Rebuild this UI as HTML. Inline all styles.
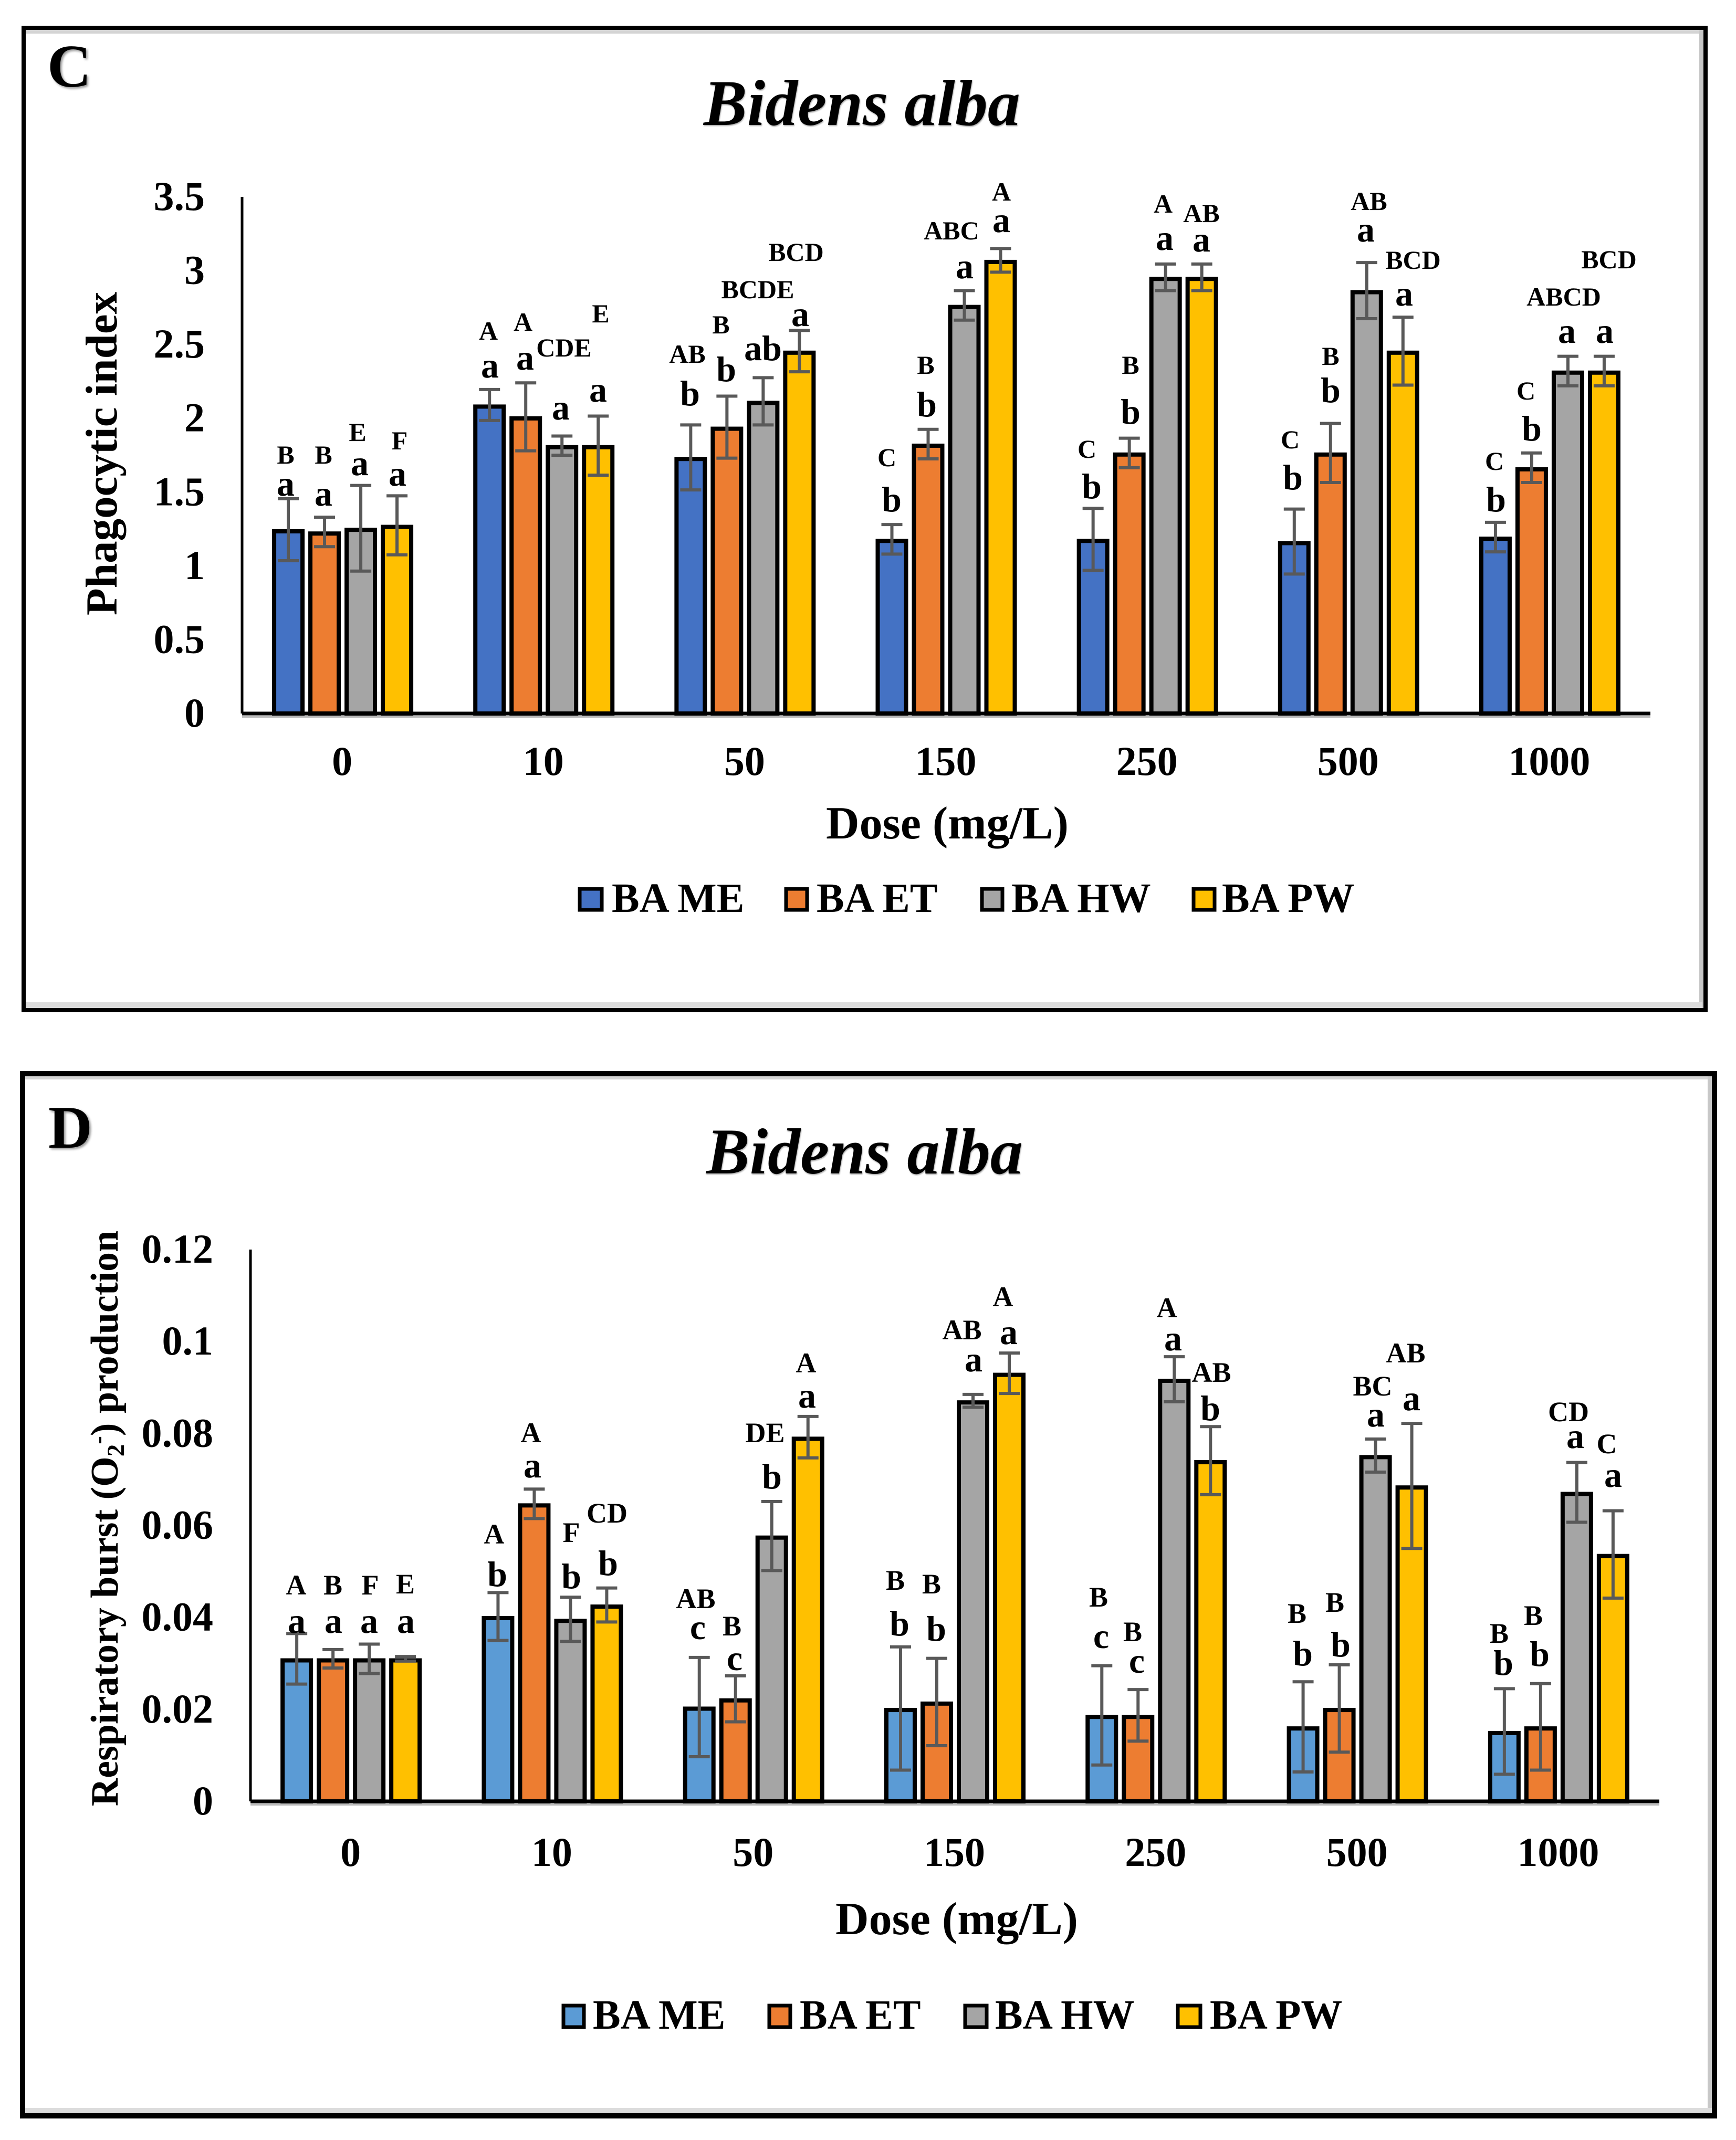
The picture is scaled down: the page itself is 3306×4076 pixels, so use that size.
<!DOCTYPE html>
<html lang="en">
<head>
<meta charset="utf-8">
<title>Bidens alba charts</title>
<style>
html,body{margin:0;padding:0;background:#fff;width:3306px;height:4076px;overflow:hidden}
svg{display:block}
text{font-family:"Liberation Serif",serif;font-weight:bold;fill:#000}
.up{font-size:50px;text-anchor:middle}
.lo{font-size:68px;text-anchor:middle}
.upd{font-size:54px;text-anchor:middle}
.panel{font-size:116px;filter:drop-shadow(3px 3px 2px #999)}
.title{font-size:124px;font-style:italic;filter:drop-shadow(1px 2px 1px #aaa)}
.tick{font-size:78px}
.axt{font-size:88px}
.leg{font-size:79px}
</style>
</head>
<body>
<svg id="figure" xmlns="http://www.w3.org/2000/svg" width="3306" height="4076" viewBox="0 0 3306 4076">
<rect x="0" y="0" width="3306" height="4076" fill="#fff"/>

<!-- Panel C frame -->
<g>
<rect x="50" y="57" width="3192" height="7" fill="#d4d4d4"/>
<rect x="3236" y="57" width="8" height="1864" fill="#c8c8c8"/>
<rect x="50" y="1909" width="3192" height="12" fill="#dcdcdc"/>
<rect x="45" y="53" width="3203" height="1871" fill="none" stroke="#000" stroke-width="8"/>
</g>
<text class="panel" x="90" y="165">C</text>
<text class="title" x="1340" y="238">Bidens alba</text>
<text font-size="85" transform="translate(222,864) rotate(-90)" text-anchor="middle">Phagocytic index</text>
<text class="axt" x="1804" y="1597" text-anchor="middle">Dose (mg/L)</text>
<g id="chartC"></g>

<!-- Panel C legend -->
<g>
<rect x="1104" y="1693" width="42" height="40" fill="#4472C4" stroke="#000" stroke-width="7"/>
<text class="leg" x="1165" y="1737">BA ME</text>
<rect x="1497" y="1693" width="40" height="40" fill="#ED7D31" stroke="#000" stroke-width="7"/>
<text class="leg" x="1555" y="1737">BA ET</text>
<rect x="1870" y="1693" width="39" height="40" fill="#A5A5A5" stroke="#000" stroke-width="7"/>
<text class="leg" x="1926" y="1737">BA HW</text>
<rect x="2273" y="1693" width="40" height="40" fill="#FFC000" stroke="#000" stroke-width="7"/>
<text class="leg" x="2327" y="1737">BA PW</text>
</g>

<!-- Panel C significance letters -->
<g>
<text class="up" x="544" y="883">B</text>
<text class="up" x="616" y="883">B</text>
<text class="up" x="681" y="840">E</text>
<text class="up" x="761" y="856">F</text>
<text class="lo" x="544" y="944">a</text>
<text class="lo" x="616" y="963">a</text>
<text class="lo" x="685" y="905">a</text>
<text class="lo" x="757" y="925">a</text>
<text class="up" x="930" y="647">A</text>
<text class="up" x="996" y="630">A</text>
<text class="up" x="1074" y="679">CDE</text>
<text class="up" x="1144" y="614">E</text>
<text class="lo" x="933" y="719">a</text>
<text class="lo" x="1000" y="704">a</text>
<text class="lo" x="1068" y="799">a</text>
<text class="lo" x="1139" y="765">a</text>
<text class="up" x="1309" y="691">AB</text>
<text class="up" x="1373" y="635">B</text>
<text class="up" x="1443" y="568">BCDE</text>
<text class="up" x="1516" y="497">BCD</text>
<text class="lo" x="1314" y="772">b</text>
<text class="lo" x="1383" y="726">b</text>
<text class="lo" x="1453" y="686">ab</text>
<text class="lo" x="1524" y="621">a</text>
<text class="up" x="1689" y="888">C</text>
<text class="lo" x="1698" y="974">b</text>
<text class="up" x="1763" y="712">B</text>
<text class="lo" x="1765" y="793">b</text>
<text class="up" x="1812" y="456">ABC</text>
<text class="lo" x="1837" y="530">a</text>
<text class="up" x="1907" y="382">A</text>
<text class="lo" x="1907" y="442">a</text>
<text class="up" x="2070" y="872">C</text>
<text class="lo" x="2079" y="949">b</text>
<text class="up" x="2153" y="712">B</text>
<text class="lo" x="2153" y="807">b</text>
<text class="up" x="2215" y="405">A</text>
<text class="lo" x="2218" y="476">a</text>
<text class="up" x="2288" y="423">AB</text>
<text class="lo" x="2288" y="479">a</text>
<text class="up" x="2457" y="854">C</text>
<text class="lo" x="2462" y="932">b</text>
<text class="up" x="2534" y="695">B</text>
<text class="lo" x="2534" y="766">b</text>
<text class="up" x="2607" y="400">AB</text>
<text class="lo" x="2601" y="460">a</text>
<text class="up" x="2691" y="512">BCD</text>
<text class="lo" x="2674" y="582">a</text>
<text class="up" x="2846" y="895">C</text>
<text class="lo" x="2849" y="974">b</text>
<text class="up" x="2906" y="761">C</text>
<text class="lo" x="2917" y="839">b</text>
<text class="up" x="2978" y="582">ABCD</text>
<text class="lo" x="2984" y="653">a</text>
<text class="up" x="3064" y="511">BCD</text>
<text class="lo" x="3056" y="653">a</text>
</g>

<!-- Panel D frame -->
<g>
<rect x="48" y="2048" width="3212" height="8" fill="#d4d4d4"/>
<rect x="3252" y="2048" width="10" height="1980" fill="#c8c8c8"/>
<rect x="48" y="4015" width="3212" height="12" fill="#dcdcdc"/>
<rect x="43" y="2045" width="3222" height="1985" fill="none" stroke="#000" stroke-width="10"/>
</g>
<text class="panel" x="92" y="2186">D</text>
<text class="title" x="1345" y="2235">Bidens alba</text>
<text transform="translate(224,2892) rotate(-90)" text-anchor="middle" font-size="74">Respiratory burst (O<tspan font-size="47" dy="12">2</tspan><tspan font-size="47" dy="-34">-</tspan><tspan dy="22">) production</tspan></text>
<text class="axt" x="1822" y="3684" text-anchor="middle">Dose (mg/L)</text>
<g id="chartD"></g>

<!-- Panel D legend -->
<g>
<rect x="1073" y="3820" width="39" height="41" fill="#5B9BD5" stroke="#000" stroke-width="7"/>
<text class="leg" x="1129" y="3864">BA ME</text>
<rect x="1465" y="3820" width="40" height="41" fill="#ED7D31" stroke="#000" stroke-width="7"/>
<text class="leg" x="1523" y="3864">BA ET</text>
<rect x="1838" y="3820" width="41" height="41" fill="#A5A5A5" stroke="#000" stroke-width="7"/>
<text class="leg" x="1895" y="3864">BA HW</text>
<rect x="2243" y="3820" width="43" height="41" fill="#FFC000" stroke="#000" stroke-width="7"/>
<text class="leg" x="2304" y="3864">BA PW</text>
</g>

<!-- Panel D significance letters -->
<g>
<text class="upd" x="564" y="3037">A</text>
<text class="upd" x="634" y="3037">B</text>
<text class="upd" x="705" y="3037">F</text>
<text class="upd" x="772" y="3035">E</text>
<text class="lo" x="565" y="3110">a</text>
<text class="lo" x="635" y="3110">a</text>
<text class="lo" x="703" y="3110">a</text>
<text class="lo" x="773" y="3110">a</text>
<text class="upd" x="941" y="2940">A</text>
<text class="lo" x="947" y="3021">b</text>
<text class="upd" x="1011" y="2747">A</text>
<text class="lo" x="1014" y="2814">a</text>
<text class="upd" x="1088" y="2937">F</text>
<text class="lo" x="1088" y="3025">b</text>
<text class="upd" x="1156" y="2900">CD</text>
<text class="lo" x="1158" y="3000">b</text>
<text class="upd" x="1325" y="3063">AB</text>
<text class="lo" x="1329" y="3122">c</text>
<text class="upd" x="1394" y="3115">B</text>
<text class="lo" x="1399" y="3181">c</text>
<text class="upd" x="1457" y="2747">DE</text>
<text class="lo" x="1470" y="2835">b</text>
<text class="upd" x="1535" y="2614">A</text>
<text class="lo" x="1537" y="2681">a</text>
<text class="upd" x="1705" y="3028">B</text>
<text class="lo" x="1713" y="3115">b</text>
<text class="upd" x="1774" y="3035">B</text>
<text class="lo" x="1783" y="3125">b</text>
<text class="upd" x="1832" y="2551">AB</text>
<text class="lo" x="1854" y="2612">a</text>
<text class="upd" x="1910" y="2488">A</text>
<text class="lo" x="1921" y="2560">a</text>
<text class="upd" x="2092" y="3060">B</text>
<text class="lo" x="2097" y="3139">c</text>
<text class="upd" x="2157" y="3126">B</text>
<text class="lo" x="2165" y="3186">c</text>
<text class="upd" x="2222" y="2509">A</text>
<text class="lo" x="2234" y="2572">a</text>
<text class="upd" x="2307" y="2632">AB</text>
<text class="lo" x="2305" y="2705">b</text>
<text class="upd" x="2470" y="3091">B</text>
<text class="lo" x="2481" y="3172">b</text>
<text class="upd" x="2542" y="3070">B</text>
<text class="lo" x="2553" y="3155">b</text>
<text class="upd" x="2614" y="2658">BC</text>
<text class="lo" x="2620" y="2717">a</text>
<text class="upd" x="2677" y="2595">AB</text>
<text class="lo" x="2688" y="2686">a</text>
<text class="upd" x="2855" y="3129">B</text>
<text class="lo" x="2863" y="3190">b</text>
<text class="upd" x="2920" y="3095">B</text>
<text class="lo" x="2932" y="3173">b</text>
<text class="upd" x="2987" y="2707">CD</text>
<text class="lo" x="3000" y="2758">a</text>
<text class="upd" x="3060" y="2768">C</text>
<text class="lo" x="3072" y="2832">a</text>
</g>
</svg>

<script>
var doses = ['0', '10', '50', '150', '250', '500', '1000'];
var seriesKeys = ['me', 'et', 'hw', 'pw'];

var cTicks = [0, 0.5, 1, 1.5, 2, 2.5, 3, 3.5];
var cMe = [1.245, 2.09, 1.735, 1.18, 1.18, 1.165, 1.195];
var cEt = [1.23, 2.01, 1.94, 1.825, 1.765, 1.765, 1.665];
var cHw = [1.255, 1.815, 2.115, 2.765, 2.955, 2.865, 2.32];
var cPw = [1.275, 1.815, 2.455, 3.07, 2.955, 2.455, 2.32];
var cMeErr = [0.21, 0.105, 0.22, 0.1, 0.21, 0.22, 0.1];
var cEtErr = [0.1, 0.23, 0.21, 0.1, 0.1, 0.2, 0.1];
var cHwErr = [0.29, 0.065, 0.16, 0.1, 0.09, 0.19, 0.1];
var cPwErr = [0.2, 0.2, 0.14, 0.08, 0.09, 0.23, 0.1];

var dTicks = [0, 0.02, 0.04, 0.06, 0.08, 0.1, 0.12];
var dMe = [0.031, 0.0402, 0.0205, 0.0202, 0.0187, 0.0162, 0.0152];
var dEt = [0.031, 0.0647, 0.0223, 0.0216, 0.0187, 0.0202, 0.0162];
var dHw = [0.031, 0.0396, 0.0577, 0.0871, 0.0918, 0.0752, 0.0672];
var dPw = [0.031, 0.0427, 0.0792, 0.0931, 0.0741, 0.0686, 0.0537];
var dMeErr = [0.0055, 0.0052, 0.0108, 0.0134, 0.0108, 0.0098, 0.0093];
var dEtErr = [0.002, 0.0032, 0.005, 0.0095, 0.0056, 0.0095, 0.0094];
var dHwErr = [0.0032, 0.0048, 0.0075, 0.0014, 0.0049, 0.0036, 0.0065];
var dPwErr = [0.0005, 0.0037, 0.0045, 0.0044, 0.0074, 0.0136, 0.0095];

var NS = 'http://www.w3.org/2000/svg';

function make(tag, parent, attrs) {
  var el = document.createElementNS(NS, tag);
  for (var k in attrs) { el.setAttribute(k, attrs[k]); }
  parent.appendChild(el);
  return el;
}

function drawChart(rootId, opts, series, errors, colors, ticks) {
  var root = document.getElementById(rootId);
  var band = (opts.xEnd - opts.xStart) / doses.length;
  function xCenter(i) { return opts.xStart + band * (i + 0.5); }
  function y(v) { return opts.y0 - (v / opts.yMax) * (opts.y0 - opts.yTop); }
  var offsets = [-103.5, -34.5, 34.5, 103.5];

  for (var s = 0; s < series.length; s++) {
    for (var i = 0; i < doses.length; i++) {
      var bx = xCenter(i) + offsets[s];
      var bar = make('rect', root, {
        x: bx - 27, y: y(series[s][i]) + 3, width: 54,
        height: Math.max(0, opts.y0 - y(series[s][i]) - 3),
        fill: colors[s], stroke: '#000', 'stroke-width': 8
      });
      
      
    }
  }

  for (var s2 = 0; s2 < series.length; s2++) {
    for (var j = 0; j < doses.length; j++) {
      var ex = xCenter(j) + offsets[s2];
      var hi = y(series[s2][j] + errors[s2][j]);
      var lo = y(series[s2][j] - errors[s2][j]);
      var eb = make('path', root, {
        d: 'M' + (ex - 20) + ' ' + hi + 'H' + (ex + 20) + 'M' + ex + ' ' + hi + 'V' + lo + 'M' + (ex - 20) + ' ' + lo + 'H' + (ex + 20),
        fill: 'none', stroke: '#595959', 'stroke-width': 6
      });
      
      
    }
  }

  var yAxis = make('line', root, { x1: opts.xStart, x2: opts.xStart, y1: opts.yTop, y2: opts.y0, stroke: '#000', 'stroke-width': 5 });
  
  

  var shadow = make('line', root, { x1: opts.xStart, x2: opts.xEnd, y1: opts.y0 + 6, y2: opts.y0 + 6, stroke: '#bbb', 'stroke-width': 4 });
  
  

  var xAxis = make('line', root, { x1: opts.xStart, x2: opts.xEnd, y1: opts.y0, y2: opts.y0, stroke: '#000', 'stroke-width': 7 });
  
  

  for (var t = 0; t < ticks.length; t++) {
    var tl = make('text', root, { x: opts.tickRight, y: y(ticks[t]) + 25, 'text-anchor': 'end', 'class': 'tick' });
    tl.textContent = String(ticks[t]);
    
    
  }

  for (var c = 0; c < doses.length; c++) {
    var cl = make('text', root, { x: xCenter(c) - 1, y: opts.xLabelY, 'text-anchor': 'middle', 'class': 'tick' });
    cl.textContent = doses[c];
    
    
  }
}

drawChart('chartC',
  { xStart: 461, xEnd: 3143, y0: 1359, yTop: 375, yMax: 3.5, tickRight: 390, xLabelY: 1476 },
  [cMe, cEt, cHw, cPw], [cMeErr, cEtErr, cHwErr, cPwErr],
  ['#4472C4', '#ED7D31', '#A5A5A5', '#FFC000'], cTicks);

drawChart('chartD',
  { xStart: 477, xEnd: 3160, y0: 3431, yTop: 2380, yMax: 0.12, tickRight: 406, xLabelY: 3554 },
  [dMe, dEt, dHw, dPw], [dMeErr, dEtErr, dHwErr, dPwErr],
  ['#5B9BD5', '#ED7D31', '#A5A5A5', '#FFC000'], dTicks);
</script>
</body>
</html>
